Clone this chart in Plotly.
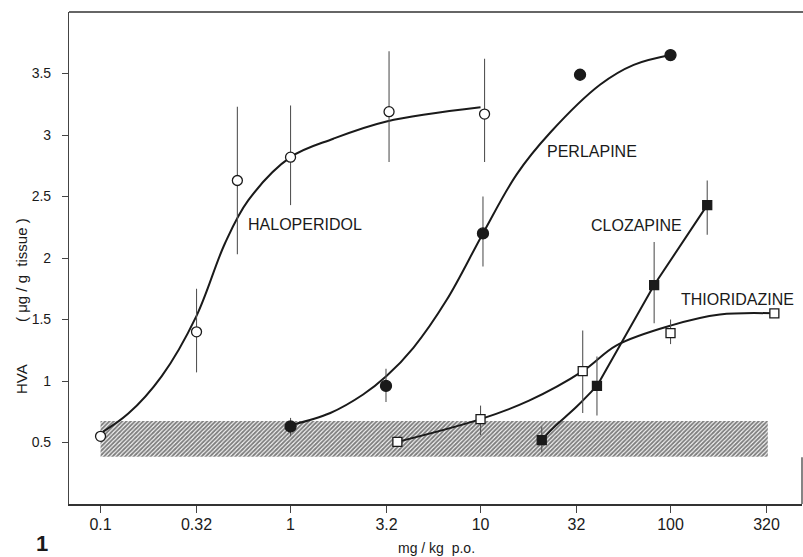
import math
import plotly.graph_objects as go

# ---------------- data ----------------
tick_vals = [0.1, 0.32, 1, 3.2, 10, 32, 100, 320]
tick_text = ["0.1", "0.32", "1", "3.2", "10", "32", "100", "320"]
y_tick_vals = [0.5, 1, 1.5, 2, 2.5, 3, 3.5]
y_tick_text = ["0.5", "1", "1.5", "2", "2.5", "3", "3.5"]

# control band (hatched)
band_dose = [0.1, 325]
band_hva = [0.385, 0.675]

# Haloperidol (open circles)
halo_dose = [0.1, 0.32, 0.525, 1.0, 3.3, 10.5]
halo_hva = [0.55, 1.40, 2.63, 2.82, 3.19, 3.17]
halo_err_plus = [0, 0.35, 0.60, 0.42, 0.49, 0.45]
halo_err_minus = [0, 0.33, 0.60, 0.39, 0.41, 0.39]
halo_curve_dose = [0.1, 0.14, 0.21, 0.32, 0.452, 0.6, 1.0, 1.68, 3.2, 10.0]
halo_curve_hva = [0.575, 0.735, 1.04, 1.53, 2.12, 2.47, 2.82, 2.97, 3.11, 3.225]

# Perlapine (filled circles)
perl_dose = [1.0, 3.18, 10.3, 33.4, 100]
perl_hva = [0.63, 0.96, 2.20, 3.49, 3.65]
perl_err_plus = [0.07, 0.14, 0.30, 0, 0]
perl_err_minus = [0.08, 0.13, 0.27, 0, 0]
perl_curve_dose = [1.0, 1.62, 2.41, 3.2, 4.43, 6.64, 10.3, 15.5, 23.3, 42.7, 64, 100]
perl_curve_hva = [0.64, 0.74, 0.89, 1.04, 1.27, 1.66, 2.20, 2.68, 3.02, 3.41, 3.57, 3.65]

# Clozapine (filled squares)
cloz_dose = [21, 41, 82, 156]
cloz_hva = [0.52, 0.96, 1.78, 2.43]
cloz_err_plus = [0.11, 0.24, 0.35, 0.20]
cloz_err_minus = [0.10, 0.24, 0.31, 0.24]
cloz_curve_dose = [21, 24, 32, 41]
cloz_curve_hva = [0.52, 0.615, 0.79, 0.96]
cloz_line_dose = [41, 82, 156]
cloz_line_hva = [0.96, 1.78, 2.43]

# Thioridazine (open squares)
thio_dose = [3.65, 10, 34.5, 100, 352]
thio_hva = [0.505, 0.69, 1.08, 1.39, 1.55]
thio_err_plus = [0, 0.11, 0.33, 0.11, 0]
thio_err_minus = [0, 0.13, 0.34, 0.09, 0]
thio_curve_dose = [3.65, 10, 18, 34.5, 52, 100, 182, 352]
thio_curve_hva = [0.505, 0.69, 0.84, 1.08, 1.29, 1.45, 1.54, 1.55]

labels = ["HALOPERIDOL", "PERLAPINE", "CLOZAPINE", "THIORIDAZINE"]
label_dose = [0.58, 21.8, 37.2, 111]
label_hva = [2.276, 2.864, 2.268, 1.659]

# ---------------- figure ----------------
FONT = "Liberation Sans, Arial, Helvetica, sans-serif"
INK = "#1a1a1a"
fig = go.Figure()

# hatched control band
fig.add_trace(go.Scatter(
    x=[band_dose[0], band_dose[1], band_dose[1], band_dose[0], band_dose[0]],
    y=[band_hva[0], band_hva[0], band_hva[1], band_hva[1], band_hva[0]],
    mode="lines", fill="toself", line=dict(width=0, color="rgba(0,0,0,0)"),
    fillcolor="white",
    fillpattern=dict(shape="/", size=3, solidity=0.65, fgcolor="#000000", bgcolor="white"),
    hoverinfo="skip", showlegend=False))


def curve(xs, ys, shape="spline"):
    fig.add_trace(go.Scatter(x=xs, y=ys, mode="lines",
                             line=dict(color=INK, width=2, shape=shape, smoothing=1.0),
                             showlegend=False, hoverinfo="skip"))


def points(xs, ys, ep, em, symbol, fill, size):
    fig.add_trace(go.Scatter(
        x=xs, y=ys, mode="markers",
        marker=dict(symbol=symbol, size=size, color=fill, line=dict(color=INK, width=1.3)),
        error_y=dict(type="data", symmetric=False, array=ep, arrayminus=em,
                     width=0, thickness=1.1, color="#555555"),
        showlegend=False))


curve(halo_curve_dose, halo_curve_hva)
curve(perl_curve_dose, perl_curve_hva)
curve(cloz_curve_dose, cloz_curve_hva)
curve(cloz_line_dose, cloz_line_hva, shape="linear")
curve(thio_curve_dose, thio_curve_hva)

points(halo_dose, halo_hva, halo_err_plus, halo_err_minus, "circle", "white", 10)
points(perl_dose, perl_hva, perl_err_plus, perl_err_minus, "circle", INK, 11)
points(cloz_dose, cloz_hva, cloz_err_plus, cloz_err_minus, "square", INK, 9)
points(thio_dose, thio_hva, thio_err_plus, thio_err_minus, "square", "white", 9)

for t, xd, yd in zip(labels, label_dose, label_hva):
    fig.add_annotation(x=math.log10(xd), y=yd, xref="x", yref="y", text=t,
                       showarrow=False, xanchor="left", yanchor="middle",
                       font=dict(family=FONT, size=16, color=INK))

fig.add_annotation(x=-0.0368, y=-0.081, xref="paper", yref="paper", text="<b>1</b>",
                   showarrow=False, xanchor="center", yanchor="middle",
                   font=dict(family=FONT, size=22, color=INK))
fig.add_annotation(x=0.502, y=-0.0894, xref="paper", yref="paper", text="mg / kg  p.o.",
                   showarrow=False, xanchor="center", yanchor="middle",
                   font=dict(family=FONT, size=14, color=INK))
fig.add_annotation(x=-0.0655, y=0.254, xref="paper", yref="paper", text="HVA",
                   showarrow=False, textangle=-90, xanchor="center", yanchor="middle",
                   font=dict(family=FONT, size=15, color=INK))
fig.add_annotation(x=-0.0655, y=0.4756, xref="paper", yref="paper", text="( μg / g  tissue )",
                   showarrow=False, textangle=-90, xanchor="center", yanchor="middle",
                   font=dict(family=FONT, size=15, color=INK))

# frame: top line and short right segment
fig.add_shape(type="line", xref="paper", yref="paper", x0=0, x1=1.002, y0=1, y1=1,
              line=dict(color="#333333", width=1.5))
fig.add_shape(type="line", xref="paper", yref="y", x0=1, x1=1, y0=0, y1=0.38,
              line=dict(color="#333333", width=1.2))

fig.update_xaxes(type="log", range=[-1.166, 2.692], tickvals=tick_vals, ticktext=tick_text,
                 ticks="outside", ticklen=7, tickwidth=1, tickcolor="#444",
                 showline=True, linecolor="#333", linewidth=1.5,
                 showgrid=False, zeroline=False, ticklabelstandoff=-2,
                 tickfont=dict(family=FONT, size=16, color=INK))
fig.update_yaxes(range=[0, 4.0], tickvals=y_tick_vals, ticktext=y_tick_text,
                 ticks="outside", ticklen=6, tickwidth=1, tickcolor="#444",
                 showline=True, linecolor="#444", linewidth=1.2,
                 showgrid=False, zeroline=False, ticklabelstandoff=8,
                 tickfont=dict(family=FONT, size=14, color=INK))

fig.update_layout(width=803, height=557, margin=dict(l=69, r=1, t=12, b=53),
                  paper_bgcolor="white", plot_bgcolor="white",
                  font=dict(family=FONT, color=INK), showlegend=False)

fig.write_html("out.html", config={"displayModeBar": False},
               post_script="document.body.style.margin='0px';document.body.style.overflow='hidden';")
